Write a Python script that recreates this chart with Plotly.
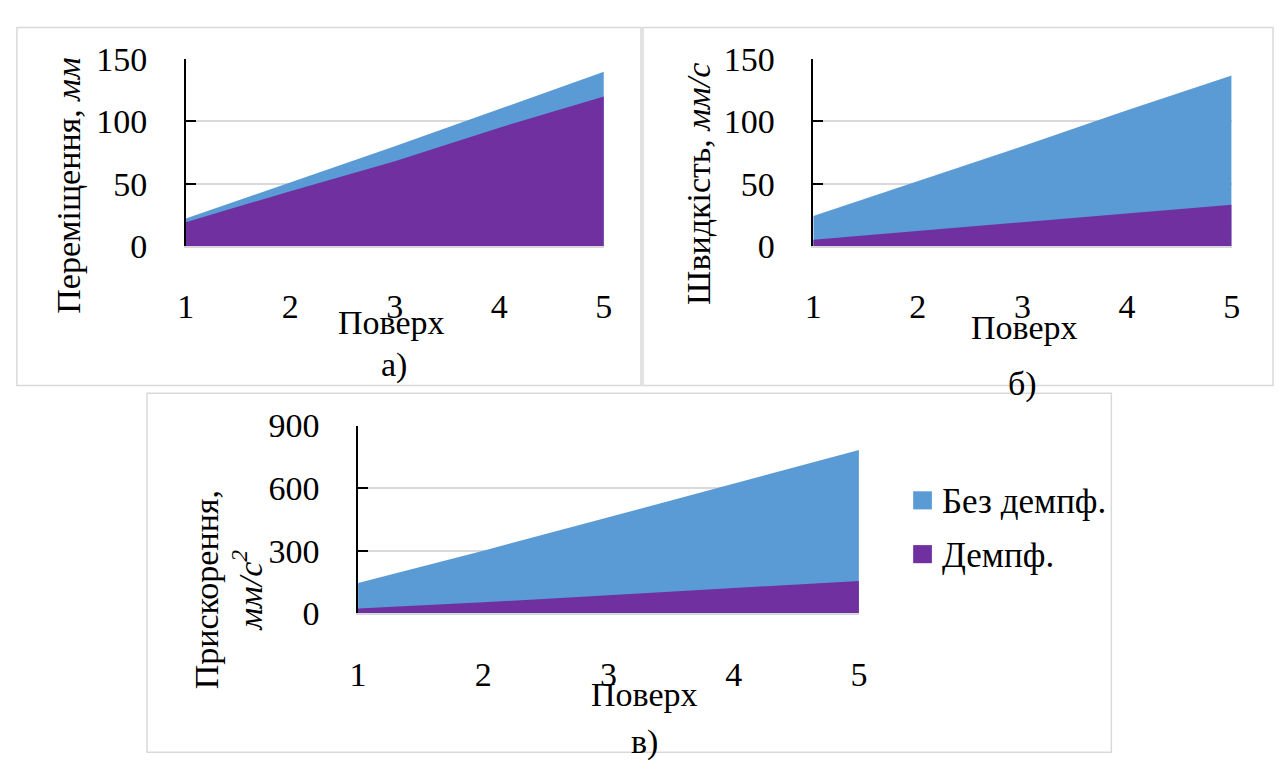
import plotly.graph_objects as go

# Floor numbers (x) and response values for the undamped / damped building
floors = [1, 2, 3, 4, 5]

displacement_undamped = [22, 51, 80, 110, 140]   # мм
displacement_damped = [19, 44, 68, 95, 120]

velocity_undamped = [24, 52, 80, 109, 137]       # мм/с
velocity_damped = [5, 12, 19, 26, 33]

acceleration_undamped = [145, 300, 460, 620, 783]  # мм/с²
acceleration_damped = [22, 52, 86, 120, 155]

series_names = ["Без демпф.", "Демпф."]
series_colors = ["#5B9BD5", "#7030A0"]

W, H = 1286, 776
FONT = "Liberation Serif"
FS = 34


def px(x):
    return x / W


def py(y):
    return 1 - y / H


fig = go.Figure()

panels = [
    ("x", "y", displacement_undamped, displacement_damped),
    ("x2", "y2", velocity_undamped, velocity_damped),
    ("x3", "y3", acceleration_undamped, acceleration_damped),
]
for xa, ya, undamped, damped in panels:
    for vals, name, color in zip((undamped, damped), series_names, series_colors):
        fig.add_trace(go.Scatter(
            x=floors, y=vals, name=name, mode="lines",
            fill="tozeroy", fillcolor=color, line=dict(width=0, color=color),
            xaxis=xa, yaxis=ya, showlegend=False, hoverinfo="x+y+name",
        ))

grid = "#D9D9D9"


def xaxis(domain, anchor, standoff):
    return dict(
        domain=domain, anchor=anchor, range=[1, 5], tickvals=floors,
        showgrid=False, zeroline=False, showline=True, linecolor=grid, linewidth=1.5,
        ticks="", ticklabelstandoff=standoff,
        tickfont=dict(family=FONT, size=FS, color="black"),
    )


def yaxis(domain, anchor, rng, dtick):
    return dict(
        domain=domain, anchor=anchor, range=rng, dtick=dtick,
        showgrid=True, gridcolor=grid, gridwidth=1.5, zeroline=False,
        showline=True, linecolor="black", linewidth=1.5,
        ticks="inside", ticklen=10, tickwidth=1.5, tickcolor="black",
        ticklabelstandoff=30,
        tickfont=dict(family=FONT, size=FS, color="black"),
    )


fig.update_layout(
    width=W, height=H, margin=dict(l=0, r=0, t=0, b=0),
    paper_bgcolor="white", plot_bgcolor="white",
    font=dict(family=FONT, size=FS, color="black"),
    xaxis=xaxis([px(179.3), px(603.3)], "y", 30),
    yaxis=yaxis([py(239.3), py(43.3)], "x", [0, 150], 50),
    xaxis2=xaxis([px(815.7), px(1240)], "y2", 30),
    yaxis2=yaxis([py(239.3), py(43.3)], "x2", [0, 150], 50),
    xaxis3=xaxis([px(354), px(862)], "y3", 30),
    yaxis3=yaxis([py(625), py(428)], "x3", [0, 900], 300),
)

# Frames around the three panels
frames = [(8, 10, 641, 386), (643, 10, 1282, 386), (140, 394, 1118, 771)]
for x0, y0, x1, y1 in frames:
    fig.add_shape(type="rect", xref="paper", yref="paper",
                  x0=px(x0), x1=px(x1), y0=py(y0), y1=py(y1),
                  line=dict(color="#D9D9D9", width=1.5), fillcolor="rgba(0,0,0,0)",
                  layer="below")


def label(text, x, y, angle=0, xanchor="center", size=FS):
    fig.add_annotation(text=text, xref="paper", yref="paper", x=px(x), y=py(y),
                       showarrow=False, textangle=angle, xanchor=xanchor, yanchor="middle",
                       font=dict(family=FONT, size=size, color="black"))


# Axis titles and panel captions
label("Переміщення, <i>мм</i>", 60, 176, -90)
label("Поверх", 388, 320)
label("а)", 390, 364)

label("Швидкість, <i>мм/с</i>", 700, 174, -90)
label("Поверх", 1030, 325)
label("б)", 1028, 384)

label("Прискорення,<br><i>мм/с<sup>2</sup></i>", 222, 600, -90)
label("Поверх", 645, 710)
label("в)", 645, 760)

# Legend
for i, (name, color) in enumerate(zip(series_names, series_colors)):
    yc = 506.5 + i * 56.5
    fig.add_shape(type="rect", xref="paper", yref="paper",
                  x0=px(917), x1=px(936), y0=py(yc - 9.5), y1=py(yc + 9.5),
                  line=dict(width=0), fillcolor=color)
    label(name, 944, yc + 1, xanchor="left", size=35)

fig.write_html("out.html")
